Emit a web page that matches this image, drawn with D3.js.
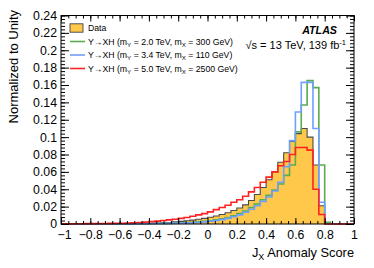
<!DOCTYPE html>
<html><head><meta charset="utf-8">
<script src="https://cdn.jsdelivr.net/npm/d3@7"></script>
<style>
body{margin:0;background:#fff}
svg{display:block}
text{font-family:"Liberation Sans",Arial,Helvetica,sans-serif;fill:#000}
</style>
</head><body>
<svg id="c" width="374" height="268"></svg>
<script>
// ---- data ----
const xMin = -1, xMax = 1, nBins = 50;
const dataVals = [0.0001,0.0001,0.0001,0.0001,0.0001,0.0001,0.0002,0.0002,0.0002,0.0003,
  0.0003,0.0004,0.0005,0.0006,0.0007, 0.0009,0.0011,0.0014,0.0018,0.0024,
  0.003,0.0037,0.0045,0.0055,0.0065, 0.0078,0.0092,0.011,0.013,0.0155,
  0.0185,0.022,0.027,0.034,0.042, 0.051,0.060,0.071,0.082,0.095,
  0.104,0.110,0.100,0.068,0.021, 0.001,0,0,0,0];
const greenVals = [0.0001,0.0001,0.0001,0.0001,0.0001,0.0001,0.0001,0.0001,0.0001,0.0001,
  0.0002,0.0002,0.0003,0.0003,0.0004, 0.0005,0.0006,0.0007,0.0008,0.001,
  0.0012,0.0015,0.0019,0.0024,0.003, 0.0038,0.0048,0.006,0.0075,0.0095,
  0.012,0.015,0.019,0.023,0.028, 0.033,0.039,0.046,0.056,0.068,
  0.106,0.137,0.165,0.157,0.068, 0.002,0,0,0,0];
const blueVals = [0.0001,0.0001,0.0001,0.0001,0.0001,0.0001,0.0001,0.0001,0.0001,0.0001,
  0.0001,0.0002,0.0002,0.0003,0.0003, 0.0004,0.0005,0.0006,0.0007,0.0008,
  0.001,0.0012,0.0015,0.0019,0.0024, 0.0031,0.004,0.005,0.0065,0.0083,
  0.0105,0.0135,0.017,0.021,0.026, 0.031,0.038,0.048,0.066,0.096,
  0.129,0.163,0.163,0.110,0.025, 0,0,0,0,0];
const redVals = [0.0002,0.0002,0.0003,0.0003,0.0004,0.0004,0.0005,0.0006,0.0007,0.0008,
  0.0009,0.0011,0.0014,0.0018,0.0022, 0.0027,0.0033,0.004,0.0047,0.0055,
  0.0065,0.0075,0.009,0.0105,0.012, 0.014,0.0165,0.019,0.0215,0.025,
  0.028,0.032,0.037,0.042,0.048, 0.054,0.060,0.067,0.072,0.080,
  0.088,0.088,0.085,0.040,0.011, 0,0,0,0,0];
const xTickValues = [-1,-0.8,-0.6,-0.4,-0.2,0,0.2,0.4,0.6,0.8,1];
const xTickLabels = ["\u22121","\u22120.8","\u22120.6","\u22120.4","\u22120.2","0","0.2","0.4","0.6","0.8","1"];
const yTickValues = [0,0.02,0.04,0.06,0.08,0.1,0.12,0.14,0.16,0.18,0.2,0.22,0.24];
const yTickLabels = ["0","0.02","0.04","0.06","0.08","0.1","0.12","0.14","0.16","0.18","0.2","0.22","0.24"];
const legendLabels = ["Data","Y\u2192XH (m|Y| = 2.0 TeV, m|X| = 300 GeV)","Y\u2192XH (m|Y| = 3.4 TeV, m|X| = 110 GeV)","Y\u2192XH (m|Y| = 5.0 TeV, m|X| = 2500 GeV)"];

// ---- layout ----
const L = 61, R = 354, T = 15.5, B = 224;
const svg = d3.select("#c");
const x = d3.scaleLinear().domain([xMin, xMax]).range([L, R]);
const y = d3.scaleLinear().domain([0, 0.24]).range([B, T]);
const binW = (xMax - xMin) / nBins;
const edges = d3.range(nBins + 1).map(i => xMin + i * binW);

function steps(vals){ const p=[]; vals.forEach((v,i)=>{p.push([edges[i],v]);p.push([edges[i+1],v]);}); return p; }
const line = d3.line().x(d=>x(d[0])).y(d=>y(d[1]));
const area = d3.area().x(d=>x(d[0])).y0(y(0)).y1(d=>y(d[1]));

const colors = {data:"#ffc84a", green:"#5aac4e", blue:"#6f9fff", red:"#ff2222"};

svg.append("path").datum(steps(dataVals)).attr("d", area).attr("fill", colors.data);
svg.append("path").datum(steps(dataVals)).attr("d", line).attr("fill","none").attr("stroke","#4a4a4a").attr("stroke-width",1.1);
[[greenVals,colors.green],[blueVals,colors.blue],[redVals,colors.red]].forEach(([v,c])=>{
  svg.append("path").datum(steps(v)).attr("d", line).attr("fill","none").attr("stroke",c).attr("stroke-width",1.6);
});

// ---- axes ----
const xMinor = d3.range(-1, 1.0001, 0.05).map(v=>+v.toFixed(3));
const yMinor = d3.range(0, 0.2401, 0.004).map(v=>+v.toFixed(4));
function clean(g){ g.select(".domain").remove(); g.selectAll("line").attr("stroke","#000"); }

svg.append("g").attr("transform",`translate(0,${B})`)
  .call(d3.axisBottom(x).tickValues(xMinor).tickSize(-3).tickFormat("")).call(clean);
svg.append("g").attr("transform",`translate(0,${B})`)
  .call(d3.axisBottom(x).tickValues(xTickValues).tickSize(-6).tickPadding(6).tickFormat((d,i)=>xTickLabels[i]))
  .call(clean).call(g=>g.selectAll("text").attr("font-size",12.3).attr("font-family",null)
    .attr("dx",(d,i)=>i===0?3:0));
svg.append("g").attr("transform",`translate(0,${T})`)
  .call(d3.axisTop(x).tickValues(xMinor).tickSize(-3).tickFormat("")).call(clean);
svg.append("g").attr("transform",`translate(0,${T})`)
  .call(d3.axisTop(x).tickValues(xTickValues).tickSize(-6).tickFormat("")).call(clean);

svg.append("g").attr("transform",`translate(${L},0)`)
  .call(d3.axisLeft(y).tickValues(yMinor).tickSize(-4).tickFormat("")).call(clean);
svg.append("g").attr("transform",`translate(${L},0)`)
  .call(d3.axisLeft(y).tickValues(yTickValues).tickSize(-8).tickPadding(4).tickFormat((d,i)=>yTickLabels[i]))
  .call(clean).call(g=>g.selectAll("text").attr("font-size",12.3).attr("font-family",null));
svg.append("g").attr("transform",`translate(${R},0)`)
  .call(d3.axisRight(y).tickValues(yMinor).tickSize(-4).tickFormat("")).call(clean);
svg.append("g").attr("transform",`translate(${R},0)`)
  .call(d3.axisRight(y).tickValues(yTickValues).tickSize(-8).tickFormat("")).call(clean);

svg.append("rect").attr("x",L).attr("y",T).attr("width",R-L).attr("height",B-T)
  .attr("fill","none").attr("stroke","#000").attr("stroke-width",1);

// ---- titles ----
const xt = svg.append("text").attr("x",R).attr("y",256.5).attr("text-anchor","end").attr("font-size",12.8);
xt.append("tspan").text("J");
xt.append("tspan").attr("font-size",9).attr("dy",3).text("X");
xt.append("tspan").attr("dy",-3).text(" Anomaly Score");

svg.append("text").attr("transform","translate(18,10) rotate(-90)").attr("text-anchor","end")
  .attr("font-size",13).text("Normalized to Unity");

svg.append("text").attr("x",337).attr("y",34.3).attr("text-anchor","end")
  .attr("font-size",10.7).attr("font-weight","bold").attr("font-style","italic").text("ATLAS");
const lt = svg.append("text").attr("x",346).attr("y",48.5).attr("text-anchor","end").attr("font-size",11);
lt.append("tspan").text("\u221As = 13 TeV, 139 fb");
lt.append("tspan").attr("font-size",7.5).attr("dy",-4).text("-1");

// ---- legend ----
const legY = [28, 41.5, 55, 68.5];
const legCol = [null, colors.green, colors.blue, colors.red];
legendLabels.forEach((lab,i)=>{
  if(i===0){
    svg.append("rect").attr("x",70).attr("y",legY[0]-4.2).attr("width",13).attr("height",8.4)
      .attr("fill",colors.data).attr("stroke","#444").attr("stroke-width",0.9);
  } else {
    svg.append("line").attr("x1",70).attr("x2",85).attr("y1",legY[i]).attr("y2",legY[i])
      .attr("stroke",legCol[i]).attr("stroke-width",1.6);
  }
  const t = svg.append("text").attr("x",88).attr("y",legY[i]+3).attr("font-size",8.7);
  lab.split("|").forEach((part,k)=>{
    if(k%2===1){ t.append("tspan").attr("font-size",6.2).attr("dy",2).text(part); }
    else { const s=t.append("tspan").text(part); if(k>0) s.attr("dy",-2); }
  });
});
</script>
</body></html>
